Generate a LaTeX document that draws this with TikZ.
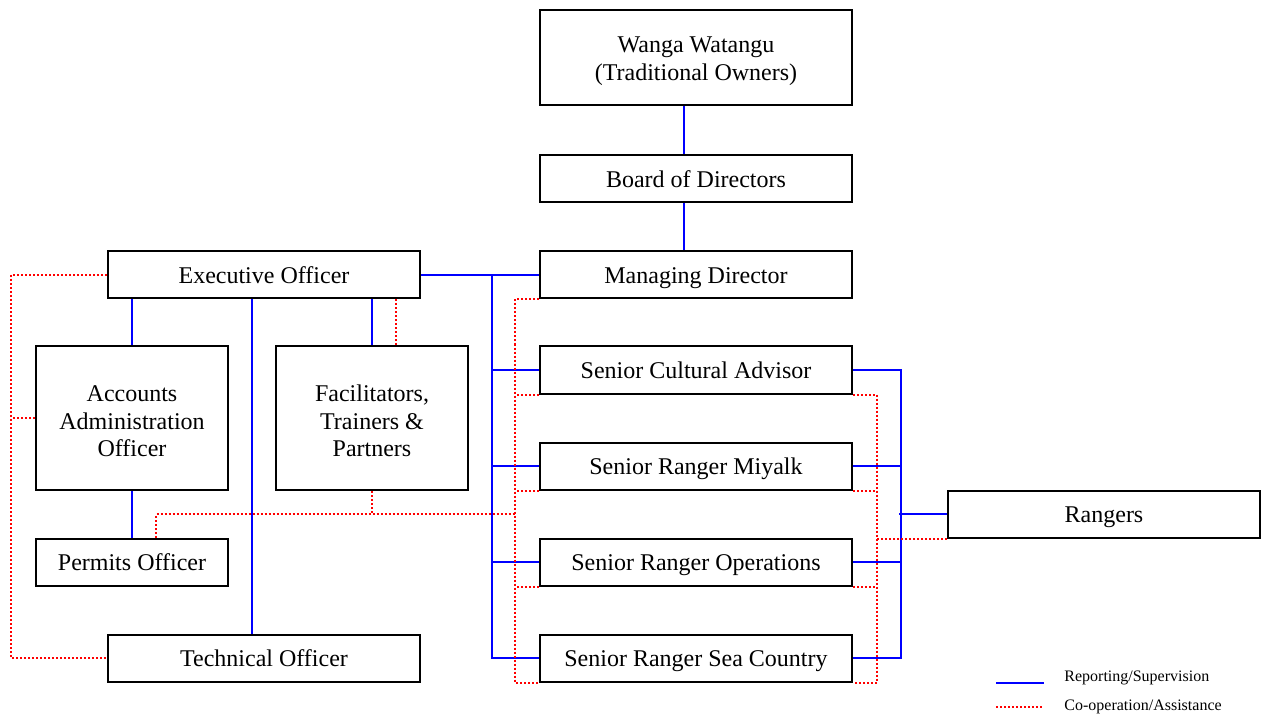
\documentclass[tikz,border=0pt]{standalone}
\usepackage{fontspec}
\setmainfont{Liberation Serif}
\usepackage{tikz}
\newcommand{\toppad}{\rule{0pt}{11.3pt}}

\begin{document}
\begin{tikzpicture}[x=0.5pt,y=-0.5pt]
			\tikzstyle{officebox}=[draw,line width=1pt,minimum width=156pt,minimum height=23.5pt,inner sep=0pt,align=center,font=\fontsize{12}{13.8}\selectfont,text height=10.8pt,text depth=2.5pt]
			\tikzstyle{bigbox}=[officebox,text height=,text depth=]
			\tikzstyle{rep}=[draw=blue,line width=1.1pt]
			\tikzstyle{coop}=[draw=red,line width=1pt,dash pattern=on 1pt off 1pt]
			\tikzstyle{legendtext}=[anchor=west,inner sep=0pt,font=\fontsize{8}{9}\selectfont]
			\useasboundingbox (0,0) rectangle (1266,717);
			\node[bigbox,minimum height=47.5pt] (wanga) at (696,58)  {\toppad Wanga Watangu\\(Traditional Owners)};
			\node[officebox] (board) at (696,179) {Board of Directors};
			\node[officebox] (md)    at (696,275) {Managing Director};
			\node[officebox] (exec)  at (264,275) {Executive Officer};
			\node[bigbox,minimum width=96pt,minimum height=72pt] (acc) at (132,418) {\toppad Accounts\\Administration\\Officer};
			\node[bigbox,minimum width=96pt,minimum height=72pt] (fac) at (372,418) {\toppad Facilitators,\\Trainers \&\\Partners};
			\node[officebox,minimum width=96pt] (perm) at (132,562) {Permits Officer};
			\node[officebox] (tech)  at (264,658) {Technical Officer};
			\node[officebox] (sca)   at (696,370) {Senior Cultural Advisor};
			\node[officebox] (miy)   at (696,466) {Senior Ranger Miyalk};
			\node[officebox] (ops)   at (696,562) {Senior Ranger Operations};
			\node[officebox] (sea)   at (696,658) {Senior Ranger Sea Country};
			\node[officebox] (rangers) at (1104,514) {Rangers};
			% reporting lines
			\draw[rep] ([xshift=-6pt]wanga.south) -- ([xshift=-6pt]board.north);
			\draw[rep] ([xshift=-6pt]board.south) -- ([xshift=-6pt]md.north);
			\draw[rep] (exec.east) -- (md.west);
			\coordinate (lbus) at (492,275);
			\draw[rep] (lbus) |- (sea.west);
			\foreach \s in {sca,miy,ops}
				\draw[rep] (lbus |- \s.west) -- (\s.west);
			\draw[rep] (sca.east) -- ++(24pt,0) |- (sea.east);
			\foreach \s in {miy,ops}
				\draw[rep] (\s.east) -- ++(24pt,0);
			\draw[rep] (rangers.west) -- ++(-24pt,0);
			\draw[rep] (acc.north) -- (acc.north |- exec.south);
			\draw[rep] (acc.south) -- (perm.north);
			\draw[rep] ([xshift=-6pt]tech.north) -- ([xshift=-6pt]tech.north |- exec.south);
			\draw[rep] (fac.north) -- (fac.north |- exec.south);
			% co-operation lines
			\draw[coop] (exec.west) -- ++(-48pt,0) |- (tech.west);
			\draw[coop] (acc.west) -- ++(-12pt,0);
			\draw[coop] ([xshift=12pt]fac.north) -- ([xshift=12pt]fac.north |- exec.south);
			\coordinate (lcoop) at (516,514);
			\draw[coop] ([xshift=12pt]perm.north) |- (lcoop);
			\draw[coop] (fac.south) -- (fac.south |- lcoop);
			\draw[coop] (md.south west) -- ++(-12pt,0) |- (sea.south west);
			\foreach \s in {sca,miy,ops}
				\draw[coop] (\s.south west) -- ++(-12pt,0);
			\draw[coop] (sca.south east) -- ++(12pt,0) |- (sea.south east);
			\foreach \s in {miy,ops}
				\draw[coop] (\s.south east) -- ++(12pt,0);
			\draw[coop] (rangers.south west) -- ++(-36pt,0);
			% legend
			\coordinate (lgrep) at (996,683);
			\coordinate (lgcoop) at (996,707);
			\draw[rep] (lgrep) -- ++(24pt,0);
			\draw[coop] (lgcoop) -- ++(24pt,0);
			\node[legendtext] (lgreptxt) at (1064,678) {Reporting/Supervision};
			\node[legendtext] (lgcooptxt) at (1064,707) {Co-operation/Assistance};
\end{tikzpicture}
\end{document}
